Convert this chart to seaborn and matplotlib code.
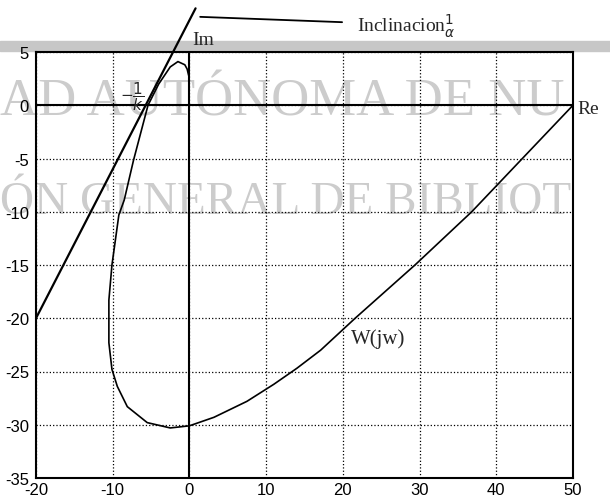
import numpy as np
import pandas as pd
import seaborn as sns
import matplotlib.pyplot as plt
from matplotlib.patches import Rectangle

# Nyquist curve W(jw) (Re, Im)
w_re = [50, 43.4, 36.8, 29.4, 21.6, 17.1, 14.0, 11.0, 7.5, 3.2, 0.0, -2.5, -5.5,
        -8.1, -9.4, -10.1, -10.5, -10.5, -10.1, -9.2, -8.5, -7.3, -5.4, -4.0,
        -2.5, -1.5, -0.6, -0.3, -0.1]
w_im = [0, -5, -10, -15, -20, -23.0, -24.7, -26.2, -27.8, -29.3, -30.1, -30.3,
        -29.8, -28.3, -26.4, -24.8, -22.3, -18.3, -15, -10.3, -8.9, -5.2, 0.0,
        2.0, 3.6, 4.1, 3.8, 3.4, 2.8]

# tangent line (slope 1/alpha) and the pointer to its label
tan_re = [-20, 0.8]
tan_im = [-20, 9.1]
ptr_re = [1.4, 19.9]
ptr_im = [8.3, 7.8]

x_ticks = [-20, -10, 0, 10, 20, 30, 40, 50]
y_ticks = [5, 0, -5, -10, -15, -20, -25, -30, -35]

sns.set_theme(style="white")
plt.rcParams["font.family"] = ["Liberation Sans", "DejaVu Sans"]

fig = plt.figure(figsize=(6.1, 5.02), dpi=100)
ax = fig.add_axes([36 / 610, 23 / 502, 537 / 610, 426 / 502])
ax.set_facecolor("none")

# scan watermark behind everything
wm = dict(color="0.80", family=["Liberation Serif", "DejaVu Serif"], zorder=-5,
          va="center", ha="left")
fig.text(0.0, 1 - 103 / 502, "AD AUTÓNOMA DE NU", fontsize=38, **wm)
fig.text(0.0, 1 - 203 / 502, "ÓN GENERAL DE BIBLIOT", fontsize=34, **wm)
fig.patches.append(Rectangle((0, 1 - 52 / 502), 1, 10 / 502, transform=fig.transFigure,
                             color="0.78", zorder=-4))

df = pd.DataFrame({"re": w_re, "im": w_im, "k": range(len(w_re))})
sns.lineplot(data=df, x="re", y="im", sort=False, estimator=None, color="black",
             lw=1.2, ax=ax)
ax.plot(tan_re, tan_im, color="black", lw=1.6, clip_on=False)
ax.plot(ptr_re, ptr_im, color="black", lw=1.3, clip_on=False)

ax.axhline(0, color="black", lw=1.5)
ax.axvline(0, color="black", lw=1.5)

ax.set_xlim(-20, 50)
ax.set_ylim(-35, 5)
ax.set_xticks(x_ticks)
ax.set_yticks(y_ticks)
ax.set_xticklabels([str(v) for v in x_ticks])
ax.set_yticklabels([str(v) for v in y_ticks])
ax.tick_params(axis="both", length=0, labelsize=12, colors="black")
ax.tick_params(axis="x", pad=3)
ax.tick_params(axis="y", pad=5)
ax.grid(True, color="black", ls=":", lw=0.9)
ax.set_xlabel("")
ax.set_ylabel("")
for s in ax.spines.values():
    s.set_color("black")
    s.set_linewidth(1.5)

serif = ["Liberation Serif", "DejaVu Serif"]
ax.text(0.4, 6.2, "Im", fontsize=14, family=serif, va="center", clip_on=False)
ax.text(50.6, -0.3, "Re", fontsize=14, family=serif, va="center", clip_on=False)
ax.text(21.0, -21.9, "W(jw)", fontsize=15, family=serif, va="center")
ax.text(-7.5, 0.9, r"$-\dfrac{1}{k}$", fontsize=11, ha="center", va="center")
ax.text(21.9, 7.5, r"Inclinacion$^{1}_{\alpha}$", fontsize=14, family=serif,
        va="center", clip_on=False)

plt.savefig("out.png", dpi=100)
